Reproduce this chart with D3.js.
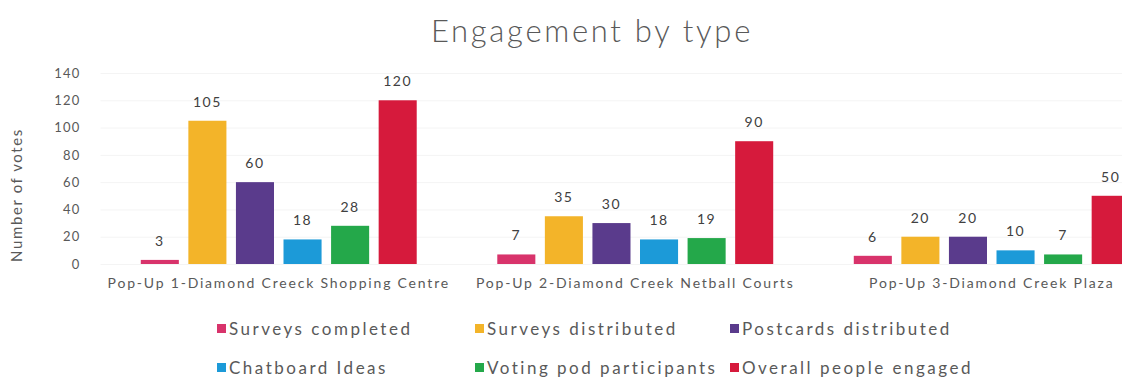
<!DOCTYPE html>
<html>
<head>
<meta charset="utf-8">
<script src="https://cdn.jsdelivr.net/npm/d3@7/dist/d3.min.js"></script>
<style>
  html, body { margin: 0; padding: 0; background: #fff; }
  svg { display: block; }
  text { font-family: "Lato", "DejaVu Sans", sans-serif; }
</style>
</head>
<body>
<svg id="chart" width="1122" height="378"></svg>
<script>
// Pop-up locations along the x axis
const categories = [
  "Pop-Up 1-Diamond Creeck Shopping Centre",
  "Pop-Up 2-Diamond Creek Netball Courts",
  "Pop-Up 3-Diamond Creek Plaza"
];

// Engagement series, one value per location
const seriesNames = [
  "Surveys completed",
  "Surveys distributed",
  "Postcards distributed",
  "Chatboard Ideas",
  "Voting pod participants",
  "Overall people engaged"
];
const surveysCompleted     = [3, 7, 6];
const surveysDistributed   = [105, 35, 20];
const postcardsDistributed = [60, 30, 20];
const chatboardIdeas       = [18, 18, 10];
const votingPodParticipants = [28, 19, 7];
const overallPeopleEngaged = [120, 90, 50];

const yTicks = [0, 20, 40, 60, 80, 100, 120, 140];

const seriesValues = [
  surveysCompleted, surveysDistributed, postcardsDistributed,
  chatboardIdeas, votingPodParticipants, overallPeopleEngaged
];
const colors = ["#d8336b", "#f3b429", "#5a3b8c", "#1c9ad8", "#24a84a", "#d61a3c"];

const svg = d3.select("#chart");

const plotLeft = 100.5, plotRight = 1170, plotTop = 73, plotBottom = 264;

const y = d3.scaleLinear().domain([0, 140]).range([plotBottom, plotTop]);

const x0 = d3.scaleBand()
  .domain(categories)
  .range([plotLeft, plotRight])
  .paddingInner(0.226)
  .paddingOuter(0.113);

const x1 = d3.scaleBand()
  .domain(seriesNames)
  .range([0, x0.bandwidth()])
  .paddingInner(0.2)
  .paddingOuter(0);

const color = d3.scaleOrdinal().domain(seriesNames).range(colors);

// Title
svg.append("text")
  .attr("x", 592).attr("y", 42)
  .attr("text-anchor", "middle")
  .attr("font-size", 31)
  .attr("font-weight", 300)
  .attr("fill", "#595959")
  .style("letter-spacing", "2.7px")
  .text("Engagement by type");

// Faint horizontal gridlines
svg.append("g")
  .selectAll("line")
  .data(yTicks)
  .join("line")
  .attr("x1", plotLeft).attr("x2", 1122)
  .attr("y1", d => y(d) + 0.5).attr("y2", d => y(d) + 0.5)
  .attr("stroke", "#f4f4f4");

// Y axis (labels only)
const yAxis = svg.append("g")
  .attr("transform", `translate(${plotLeft - 20},0)`)
  .call(d3.axisLeft(y).tickValues(yTicks).tickSize(0).tickPadding(0));
yAxis.select(".domain").remove();
yAxis.selectAll("text")
  .attr("font-size", 13)
  .attr("fill", "#595959")
  .style("font-family", "Lato, 'DejaVu Sans', sans-serif")
  .style("letter-spacing", "1.2px");

// Y axis title
svg.append("text")
  .attr("transform", "translate(22,195) rotate(-90)")
  .attr("text-anchor", "middle")
  .attr("font-size", 15)
  .attr("fill", "#595959")
  .style("letter-spacing", "1.6px")
  .text("Number of votes");

// X axis category labels
const xAxis = svg.append("g")
  .attr("transform", `translate(0,${plotBottom + 14})`)
  .call(d3.axisBottom(x0).tickSize(0).tickPadding(0));
xAxis.select(".domain").remove();
xAxis.selectAll("text")
  .attr("font-size", 14)
  .attr("fill", "#595959")
  .style("font-family", "Lato, 'DejaVu Sans', sans-serif")
  .style("letter-spacing", "1.8px");

// Grouped bars
const rows = categories.map((c, i) => ({
  category: c,
  values: seriesNames.map((s, j) => ({ series: s, value: seriesValues[j][i] }))
}));

const groups = svg.append("g")
  .selectAll("g")
  .data(rows)
  .join("g")
  .attr("transform", d => `translate(${x0(d.category)},0)`);

groups.selectAll("rect")
  .data(d => d.values)
  .join("rect")
  .attr("x", d => x1(d.series))
  .attr("y", d => y(d.value))
  .attr("width", x1.bandwidth())
  .attr("height", d => y(0) - y(d.value))
  .attr("fill", d => color(d.series));

groups.selectAll("text.value")
  .data(d => d.values)
  .join("text")
  .attr("class", "value")
  .attr("x", d => x1(d.series) + x1.bandwidth() / 2)
  .attr("y", d => y(d.value) - 14)
  .attr("text-anchor", "middle")
  .attr("font-size", 14)
  .attr("fill", "#404040")
  .style("letter-spacing", "1.5px")
  .text(d => d.value);

// Legend: two rows of three
const legendX = [217, 475, 730];
const legendY = [329, 368];
const legend = svg.append("g")
  .selectAll("g")
  .data(seriesNames)
  .join("g")
  .attr("transform", (d, i) => `translate(${legendX[i % 3]},${legendY[Math.floor(i / 3)]})`);

legend.append("rect")
  .attr("x", 0).attr("y", -5)
  .attr("width", 9).attr("height", 9)
  .attr("fill", d => color(d));

legend.append("text")
  .attr("x", 12).attr("y", 6)
  .attr("font-size", 17)
  .attr("fill", "#595959")
  .style("letter-spacing", "2.5px")
  .text(d => d);
</script>
</body>
</html>
